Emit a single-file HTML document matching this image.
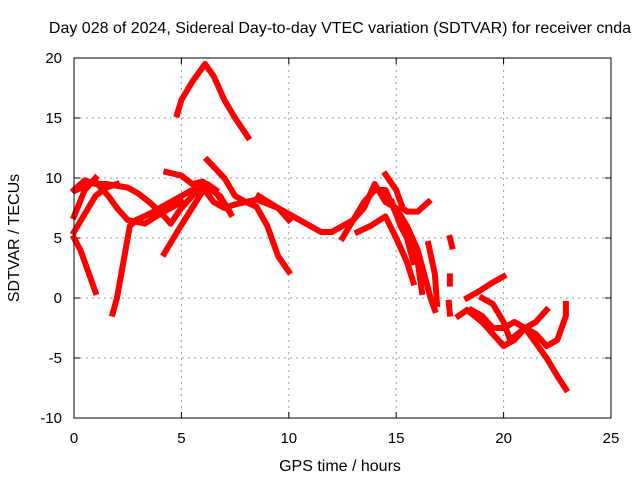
<!DOCTYPE html>
<html><head><meta charset="utf-8"><style>
body{margin:0;background:#fff}
svg{display:block;font-family:"Liberation Sans",sans-serif;font-size:15px}
</style></head><body>
<svg id="c" width="640" height="480">
<text x="340" y="33" text-anchor="middle" font-size="16">Day 028 of 2024, Sidereal Day-to-day VTEC variation (SDTVAR) for receiver cnda</text>
<text x="340" y="471" text-anchor="middle" font-size="16">GPS time / hours</text>
<text transform="translate(19,238) rotate(-90)" text-anchor="middle" font-size="16">SDTVAR / TECUs</text>
<g id="grid"></g><g id="marks"></g>
<rect x="74" y="58" width="537" height="360" fill="none" stroke="#000" stroke-width="1"/>
</svg>
<script>
const xTicks=[0,5,10,15,20,25];
const yTicks=[-10,-5,0,5,10,15,20];
const sA=[[4.8,15.3],[5.0,16.5],[5.5,18],[6.1,19.5],[6.5,18.5],[7,16.5],[7.5,15],[8.1,13.4]];
const sB=[[0,5],[0.3,4],[0.6,2.5],[1.0,0.5]];
const sC=[[1.8,-1.3],[2.0,0],[2.3,3],[2.6,6],[2.9,6.5],[3.5,7],[4.3,7.8],[5,8.5],[5.5,9],[6,9.2],[6.5,8],[7,7.5],[7.5,7.8],[8,8],[8.5,7.6],[9,6],[9.5,3.5],[10,2.2]];
const sD=[[0,9],[0.5,9.8],[1,9.5],[1.5,9.5],[2.5,9.2],[3,8.7],[3.5,8],[4,7.2],[4.5,6.2],[5,7.5],[6,9.5],[6.8,8.5],[7.3,7]];
const sE=[[0.1,9],[1,9.7],[1.6,8.5],[2,7.5],[2.5,6.5],[3.3,6.2],[4,7],[5,8]];
const sF=[[0,6.8],[0.5,9],[1,10]];
const sF2=[[0,5.5],[0.5,7],[1,8.5],[1.5,9.2],[2,9.5]];
const sG=[[4.2,3.7],[4.8,5.5],[5.5,7.5],[6.2,9.5],[6.6,9]];
const sH=[[4.3,10.5],[5,10.2],[5.5,9.5],[6,9.7],[6.6,8.8],[7.2,7.3]];
const sI=[[6.2,11.5],[7,10],[7.5,8.5],[8,8],[8.5,8.2],[9.5,7.5],[10,7],[10.5,6.5],[11,6],[11.5,5.5],[12,5.5],[12.5,6],[13,6.5],[13.5,7.5],[14,9.5],[14.5,8],[15,7.5],[15.5,6],[16,4],[16.3,2],[16.6,0],[16.8,-1]];
const sJ=[[8.6,8.5],[9.5,7.5],[10,6.5]];
const sK=[[12.5,5],[13,6.5],[13.5,8],[14,9],[14.5,9],[15,7],[15.5,5],[15.8,3]];
const sL=[[14.5,10.3],[15,9],[15.3,7.5],[15.5,7.2],[16,7.2],[16.5,8]];
const sM=[[13.2,5.5],[13.8,6],[14.5,6.8],[15,5],[15.5,3],[15.8,1.3]];
const sN=[[14.8,8],[15.2,6],[15.5,5],[16,3],[16.2,0.5]];
const sO=[[16.5,4.5],[16.8,2],[16.9,-0.5]];
const sP=[[17.5,5],[17.6,4.3]];
const sP2=[[17.5,1.8],[17.5,1.2]];
const sP3=[[17.45,-0.4],[17.5,-1.3]];
const sQ=[[17.9,-1.5],[18.3,-1],[19,-2],[19.5,-3],[20,-4],[20.5,-3.5],[21,-2.5],[21.5,-3],[22,-4],[22.5,-3.5],[22.9,-1.5],[22.9,-0.5]];
const sR=[[18.3,0],[18.8,0.5],[19.5,1.3],[20,1.8]];
const sS=[[18.5,-1],[19,-1.5],[19.5,-2.5],[20,-2.5],[20.5,-2],[21,-2.5],[22,-5],[22.5,-6.5],[22.9,-7.6]];
const sT=[[19,0],[19.5,-0.5],[20,-2],[20.3,-3.5],[21,-2.5],[21.5,-2],[22,-1]];
const seriesList=[sA,sB,sC,sD,sE,sF,sF2,sG,sH,sI,sJ,sK,sL,sM,sN,sO,sP,sP2,sP3,sQ,sR,sS,sT];
const NS="http://www.w3.org/2000/svg";
const X=t=>74+t*(537/25), Y=v=>298-v*12;
const grid=document.getElementById('grid'), marks=document.getElementById('marks'), svg=document.getElementById('c');
function mk(tag,attrs,parent){const e=document.createElementNS(NS,tag);for(const k in attrs)e.setAttribute(k,attrs[k]);parent.appendChild(e);return e;}
xTicks.forEach(t=>{
 if(t>0&&t<25){const g=mk('line',{x1:X(t),x2:X(t),y1:58,y2:418,stroke:'#999','stroke-dasharray':'2,4'},grid);
 
 }
 const k1=mk('line',{x1:X(t),x2:X(t),y1:418,y2:412,stroke:'#000'},grid);
 
 
 const k2=mk('line',{x1:X(t),x2:X(t),y1:58,y2:64,stroke:'#000'},grid);
 
 
 const l=mk('text',{x:X(t),y:443,'text-anchor':'middle'},svg);l.textContent=t;
 
 
});
yTicks.forEach(v=>{
 if(v>-10&&v<20){const g=mk('line',{x1:74,x2:611,y1:Y(v),y2:Y(v),stroke:'#999','stroke-dasharray':'2,4'},grid);
 
 }
 const k1=mk('line',{x1:74,x2:80,y1:Y(v),y2:Y(v),stroke:'#000'},grid);
 
 
 const k2=mk('line',{x1:605,x2:611,y1:Y(v),y2:Y(v),stroke:'#000'},grid);
 
 
 const l=mk('text',{x:62,y:Y(v)+5,'text-anchor':'end'},svg);l.textContent=v;
 
 
});
seriesList.forEach(s=>{
 const p=mk('polyline',{points:s.map(d=>X(d[0])+','+Y(d[1])).join(' '),fill:'none',stroke:'#f00','stroke-width':6,'stroke-linejoin':'round','stroke-linecap':'square'},marks);
 
 
});
</script>
</body></html>
